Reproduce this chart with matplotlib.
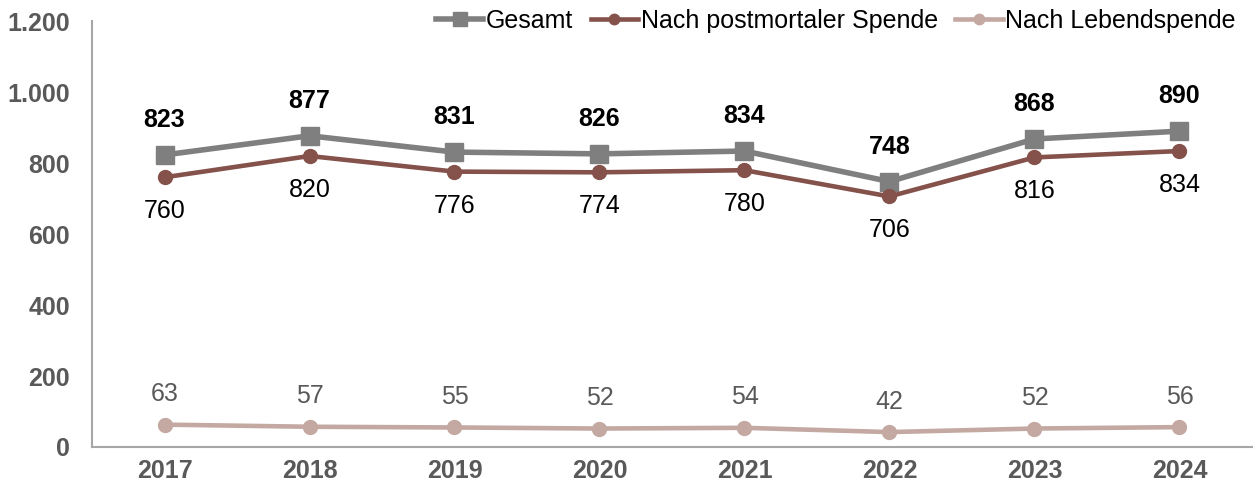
import matplotlib
matplotlib.use("Agg")
import matplotlib.pyplot as plt
from matplotlib.ticker import FuncFormatter

years = ["2017", "2018", "2019", "2020", "2021", "2022", "2023", "2024"]
gesamt = [823, 877, 831, 826, 834, 748, 868, 890]
postmortal = [760, 820, 776, 774, 780, 706, 816, 834]
lebend = [63, 57, 55, 52, 54, 42, 52, 56]

plt.rcParams['font.family'] = ['Liberation Sans', 'DejaVu Sans']

fig = plt.figure(figsize=(12.57, 4.92), dpi=100)
ax = fig.add_axes([0.0732, 0.0915, 0.9228, 0.8655])

x = list(range(len(years)))
c_g = "#7f7f7f"
c_p = "#84524a"
c_l = "#c4a8a2"

ax.plot(x, gesamt, color=c_g, lw=4, marker="s", ms=13, label="Gesamt", zorder=3)
ax.plot(x, postmortal, color=c_p, lw=3.3, marker="o", ms=10, label="Nach postmortaler Spende", zorder=3)
ax.plot(x, lebend, color=c_l, lw=3.3, marker="o", ms=10, label="Nach Lebendspende", zorder=3)

fs = 18
for xi, v in zip(x, gesamt):
    ax.annotate(str(v), (xi, v), xytext=(0, 25), textcoords="offset points",
                ha="center", va="center", fontsize=fs, fontweight="bold", color="black")
for xi, v in zip(x, postmortal):
    ax.annotate(str(v), (xi, v), xytext=(0, -24.5), textcoords="offset points",
                ha="center", va="center", fontsize=fs, color="black")
for xi, v in zip(x, lebend):
    ax.annotate(str(v), (xi, v), xytext=(0, 22), textcoords="offset points",
                ha="center", va="center", fontsize=fs, color="#595959")

ax.set_xlim(-0.5, len(years) - 0.5)
ax.set_ylim(0, 1200)
ax.set_yticks(range(0, 1201, 200))
ax.yaxis.set_major_formatter(FuncFormatter(lambda v, p: f"{int(v):,}".replace(",", ".")))
ax.set_xticks(x)
ax.set_xticklabels(years)
ax.tick_params(axis="both", length=0, labelsize=fs, labelcolor="#595959")
ax.tick_params(axis="x", pad=9)
ax.tick_params(axis="y", pad=16)
for lab in ax.get_xticklabels() + ax.get_yticklabels():
    lab.set_fontweight("bold")

for s in ["top", "right"]:
    ax.spines[s].set_visible(False)
for s in ["left", "bottom"]:
    ax.spines[s].set_color("#a6a6a6")
    ax.spines[s].set_linewidth(1.5)

handles, labels = ax.get_legend_handles_labels()
leg = fig.legend(handles, labels, loc="center right", bbox_to_anchor=(0.983, 0.957),
                 ncol=3, frameon=False, fontsize=18, handlelength=1.9, handletextpad=0.1,
                 columnspacing=0.7, markerscale=0.75, borderaxespad=0, borderpad=0)

fig.savefig("out.png", dpi=100)
